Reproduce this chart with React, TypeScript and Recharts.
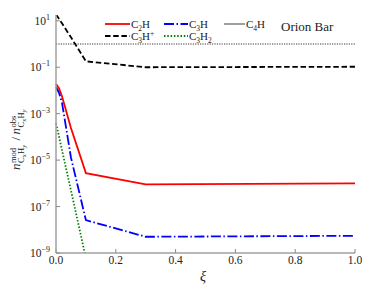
import React from 'react';
import { LineChart, Line, XAxis, YAxis, ReferenceLine, Legend, Label } from 'recharts';

const xi = [0, 0.01, 0.02, 0.05, 0.1, 0.3, 1.0];
const c2h = [0.019, 0.0126, 0.0056, 2.4e-4, 2.75e-6, 9.0e-7, 1.0e-6];
const c3h = [0.014, 0.008, 0.003, 1.3e-5, 2.6e-8, 5.0e-9, 5.5e-9];
const c3hp = [19, 12.2, 7.8, 1.95, 0.18, 0.1, 0.105];
const c3h2 = [3.8e-4, 1.07e-4, 2.7e-5, 5e-7, 6e-10, null, null];

const xTicks = [0, 0.2, 0.4, 0.6, 0.8, 1.0];
const yTickExps = [-9, -7, -5, -3, -1, 1];
const yTicks = yTickExps.map((e) => Math.pow(10, e));
const yDomain = [1e-9, Math.pow(10, 1.25)];

const data = xi.map((x, i) => ({ xi: x, c2h: c2h[i], c3h: c3h[i], c3hp: c3hp[i], c3h2: c3h2[i] }));

const FONT = "'Liberation Serif', 'DejaVu Serif', serif";
const TXT = '#222';
const fs = (size: number, italic = false): React.CSSProperties => ({
  fontFamily: FONT,
  fontSize: size,
  fontStyle: italic ? 'italic' : 'normal',
});

const XTick = (props: any) => {
  const { x, y, payload } = props;
  return (
    <text x={x} y={y + 8.5} textAnchor="middle" style={fs(11.5)} fill={TXT}>
      {Number(payload.value).toFixed(1)}
    </text>
  );
};

const YTick = (props: any) => {
  const { x, y, payload } = props;
  const e = Math.round(Math.log10(payload.value));
  const sup = e < 0 ? '\u2212' + Math.abs(e) : String(e);
  return (
    <text x={x} y={y + 4} textAnchor="end" style={fs(11.5)} fill={TXT}>
      10<tspan dy={-5} style={fs(8)}>{sup}</tspan>
    </text>
  );
};

const YLabel = () => {
  const cx = 20;
  const cy = 127.5;
  const big = 13;
  const sm = 8.5;
  const tiny = 6;
  return (
    <g transform={`translate(${cx},${cy}) rotate(-90)`} fill={TXT}>
      <text x={-42.5} y={0} style={fs(big, true)}>n</text>
      <text x={-35.5} y={-4.5} style={fs(sm)}>mod</text>
      <text x={-35.5} y={3.5} style={fs(sm)}>C</text>
      <text x={-29.8} y={5.5} style={fs(tiny)}>x</text>
      <text x={-26.5} y={3.5} style={fs(sm)}>H</text>
      <text x={-20.3} y={5.5} style={fs(tiny, true)}>y</text>
      <text x={-13} y={0} style={fs(big)}>/</text>
      <text x={-7} y={0} style={fs(big, true)}>n</text>
      <text x={0} y={-4.5} style={fs(sm)}>obs</text>
      <text x={0} y={3.5} style={fs(sm)}>C</text>
      <text x={5.7} y={5.5} style={fs(tiny)}>x</text>
      <text x={9} y={3.5} style={fs(sm)}>H</text>
      <text x={15.2} y={5.5} style={fs(tiny, true)}>y</text>
    </g>
  );
};

type Item = { label: React.ReactNode; color: string; dash?: string; width: number; col: number; row: number };

const sub = (s: string) => <tspan dy={3} style={fs(7.5)}>{s}</tspan>;

const legendItems: Item[] = [
  { label: <>C{sub('2')}<tspan dy={-3}>H</tspan></>, color: '#ff0000', width: 1.8, col: 0, row: 0 },
  { label: <>C{sub('3')}<tspan dy={-3}>H</tspan><tspan dy={-4} style={fs(7.5)}>+</tspan></>, color: '#000000', dash: '5.5 2.7', width: 1.8, col: 0, row: 1 },
  { label: <>C{sub('3')}<tspan dy={-3}>H</tspan></>, color: '#0000ff', dash: '10 2.5 1.5 2.5', width: 1.8, col: 1, row: 0 },
  { label: <>C{sub('3')}<tspan dy={-3}>H</tspan>{sub('2')}</>, color: '#008000', dash: '1.5 1.8', width: 1.8, col: 1, row: 1 },
  { label: <>C{sub('4')}<tspan dy={-3}>H</tspan></>, color: '#808080', width: 1.5, col: 2, row: 0 },
];

const colX = [[5, 30], [64, 88], [124, 145]];
const rowY = [8, 20];

const LegendContent = () => (
  <svg width={260} height={32} style={{ display: 'block' }}>
    {legendItems.map((it, i) => (
      <g key={i}>
        <line x1={colX[it.col][0]} x2={colX[it.col][1]} y1={rowY[it.row]} y2={rowY[it.row]} stroke={it.color} strokeWidth={it.width} strokeDasharray={it.dash} />
        <text x={colX[it.col][1] + 1} y={rowY[it.row] + 4} style={fs(11)} fill={TXT}>{it.label}</text>
      </g>
    ))}
    <text x={181} y={15} style={fs(13)} fill={TXT}>Orion Bar</text>
  </svg>
);

export default function App() {
  return (
    <div style={{ position: 'absolute', left: 0, top: 0 }}>
      <LineChart width={374} height={299} data={data} margin={{ top: 15, right: 19, bottom: 0, left: 0 }}>
        <XAxis
          dataKey="xi"
          type="number"
          domain={[0, 1]}
          ticks={xTicks}
          height={46}
          axisLine={{ stroke: '#a0a0a0', strokeWidth: 1.5 }}
          tickLine={{ stroke: '#888' }}
          tickSize={-4}
          tickMargin={6}
          tick={<XTick />}
          interval={0}
        >
          <Label
            content={() => (
              <text x={203} y={281} textAnchor="middle" style={fs(14, true)} fill={TXT}>ξ</text>
            )}
          />
        </XAxis>
        <XAxis xAxisId="top" orientation="top" type="number" domain={[0, 1]} height={0} tick={false} tickLine={false} axisLine={{ stroke: '#909090', strokeWidth: 1 }} />
        <YAxis
          scale="log"
          type="number"
          domain={yDomain}
          allowDataOverflow
          ticks={yTicks}
          width={56}
          axisLine={{ stroke: '#a0a0a0', strokeWidth: 1.5 }}
          tickLine={{ stroke: '#888' }}
          tickSize={-4}
          tickMargin={10}
          tick={<YTick />}
          interval={0}
        >
          <Label content={() => <YLabel />} />
        </YAxis>
        <YAxis yAxisId="right" orientation="right" type="number" domain={[0, 1]} width={0} tick={false} tickLine={false} axisLine={{ stroke: '#909090', strokeWidth: 1 }} />
        <ReferenceLine y={1} stroke="#000" strokeWidth={0.8} strokeDasharray="1.2 1.2" />
        <Line dataKey="c3hp" stroke="#000000" strokeWidth={1.8} strokeDasharray="5.5 2.7" dot={false} isAnimationActive={false} />
        <Line dataKey="c2h" stroke="#ff0000" strokeWidth={1.8} dot={false} isAnimationActive={false} />
        <Line dataKey="c3h" stroke="#0000ff" strokeWidth={1.8} strokeDasharray="10 2.5 1.5 2.5" dot={false} isAnimationActive={false} />
        <Line dataKey="c3h2" stroke="#008000" strokeWidth={1.8} strokeDasharray="1.5 1.8" dot={false} isAnimationActive={false} />
        <Legend
          layout="horizontal"
          verticalAlign="middle"
          align="center"
          wrapperStyle={{ position: 'absolute', left: 100, top: 16, width: 260, height: 32 }}
          content={() => <LegendContent />}
        />
      </LineChart>
    </div>
  );
}
